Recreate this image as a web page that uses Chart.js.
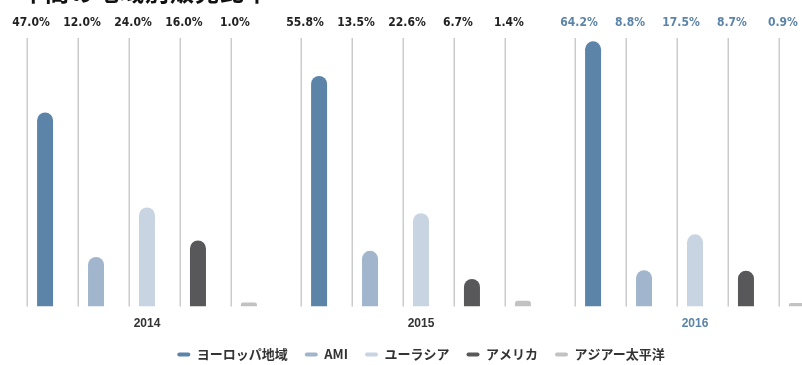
<!DOCTYPE html>
<html>
<head>
<meta charset="utf-8">
<script src="https://cdn.jsdelivr.net/npm/chart.js@4/dist/chart.umd.min.js"></script>
<style>
  html, body { margin: 0; padding: 0; background: #fff; overflow: hidden; }
  #wrap { position: relative; width: 802px; height: 365px; overflow: hidden; }
  #heading {
    position: absolute; left: 20px; top: -21px;
    font: bold 24px "Noto Sans CJK JP", sans-serif; line-height: 24px;
    color: #111; white-space: nowrap; letter-spacing: 1px;
  }
  #box { position: absolute; left: 0; top: 0; width: 840px; height: 381px; }
</style>
</head>
<body>
<div id="wrap">
  <div id="box"><canvas id="chart"></canvas></div>
  <div id="heading">年間の地域別販売比率</div>
</div>
<script>
// region shares (%) per year
const years = ["2014", "2015", "2016"];
const regions = ["ヨーロッパ地域", "AMI", "ユーラシア", "アメリカ", "アジアー太平洋"];
const europe = [47.0, 55.8, 64.2];
const ami = [12.0, 13.5, 8.8];
const eurasia = [24.0, 22.6, 17.5];
const america = [16.0, 6.7, 8.7];
const asiaPacific = [1.0, 1.4, 0.9];
const regionColors = ["#5b84a8", "#a1b5cc", "#c8d4e1", "#58585a", "#c2c2c4"];

const highlightYear = "2016";
const highlightColor = "#5b84a8";

const series = [europe, ami, eurasia, america, asiaPacific];

// vertical rule left of every bar + the percentage written above it
const rulesAndLabels = {
  id: "rulesAndLabels",
  afterLayout(chart) {
    // pull the legend row a little closer to the year labels
    chart.legend.top -= 10;
    chart.legend.bottom -= 10;
  },
  beforeDatasetsDraw(chart) {
    const ctx = chart.ctx;
    const area = chart.chartArea;
    ctx.save();
    ctx.strokeStyle = "#cbcbcb";
    ctx.lineWidth = 1.5;
    chart.data.datasets.forEach((ds, i) => {
      chart.getDatasetMeta(i).data.forEach(bar => {
        const x = Math.round(bar.x - 18) + 0.25;
        ctx.beginPath();
        ctx.moveTo(x, area.top);
        ctx.lineTo(x, area.bottom);
        ctx.stroke();
      });
    });
    ctx.restore();
  },
  afterDatasetsDraw(chart) {
    const ctx = chart.ctx;
    ctx.save();
    ctx.font = 'bold 12px "Liberation Sans Narrow", "DejaVu Sans Condensed", sans-serif';
    ctx.textAlign = "center";
    ctx.textBaseline = "middle";
    chart.data.datasets.forEach((ds, i) => {
      chart.getDatasetMeta(i).data.forEach((bar, j) => {
        ctx.fillStyle = years[j] === highlightYear ? highlightColor : "#222";
        ctx.fillText(ds.data[j].toFixed(1) + "%", bar.x - 14, 23);
      });
    });
    ctx.restore();
  }
};

new Chart(document.getElementById("chart"), {
  type: "bar",
  data: {
    labels: years,
    datasets: regions.map((name, i) => ({
      label: name,
      data: series[i],
      backgroundColor: regionColors[i],
      borderWidth: 0,
      borderRadius: { topLeft: 8, topRight: 8 },
      borderSkipped: "bottom",
      categoryPercentage: 0.93,
      barPercentage: 0.314
    }))
  },
  options: {
    responsive: true,
    maintainAspectRatio: false,
    animation: false,
    layout: { padding: { top: 38, left: 10, right: 8, bottom: 0 } },
    scales: {
      x: {
        grid: { display: false, drawTicks: false },
        border: { display: false },
        ticks: {
          padding: 10,
          font: { family: '"Liberation Sans", sans-serif', size: 12, weight: "bold" },
          color: ctx => years[ctx.index] === highlightYear ? highlightColor : "#333"
        }
      },
      y: { display: false, min: 0, max: 65 }
    },
    plugins: {
      tooltip: { enabled: false },
      legend: {
        position: "bottom",
        labels: {
          boxWidth: 13,
          boxHeight: 4,
          useBorderRadius: true,
          borderRadius: 2,
          padding: 17,
          color: "#333",
          font: { family: '"Noto Sans CJK JP", sans-serif', size: 13, weight: "bold" }
        }
      }
    }
  },
  plugins: [rulesAndLabels]
});
</script>
</body>
</html>
